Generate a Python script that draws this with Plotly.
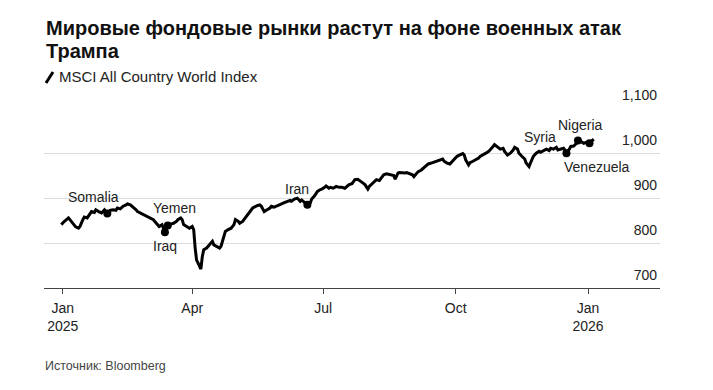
import plotly.graph_objects as go

# ---- data ----
dates = [
    "2024-12-31", "2025-01-02", "2025-01-05", "2025-01-06", "2025-01-08", "2025-01-10", "2025-01-12",
    "2025-01-13", "2025-01-15", "2025-01-16", "2025-01-18", "2025-01-19", "2025-01-21", "2025-01-23",
    "2025-01-24", "2025-01-26", "2025-01-28", "2025-01-30", "2025-01-31", "2025-02-01", "2025-02-02",
    "2025-02-03", "2025-02-05", "2025-02-07", "2025-02-08", "2025-02-10", "2025-02-12", "2025-02-14",
    "2025-02-15", "2025-02-17", "2025-02-19", "2025-02-21", "2025-02-22", "2025-02-25", "2025-02-27",
    "2025-03-01", "2025-03-03", "2025-03-05", "2025-03-06", "2025-03-08", "2025-03-09", "2025-03-11",
    "2025-03-12", "2025-03-13", "2025-03-14", "2025-03-15", "2025-03-18", "2025-03-19", "2025-03-21",
    "2025-03-22", "2025-03-24", "2025-03-25", "2025-03-26", "2025-03-28", "2025-03-30", "2025-04-01",
    "2025-04-02", "2025-04-03", "2025-04-04", "2025-04-05", "2025-04-06", "2025-04-07", "2025-04-08",
    "2025-04-09", "2025-04-11", "2025-04-13", "2025-04-15", "2025-04-16", "2025-04-18", "2025-04-20",
    "2025-04-21", "2025-04-23", "2025-04-24", "2025-04-26", "2025-04-28", "2025-04-30", "2025-05-01",
    "2025-05-03", "2025-05-04", "2025-05-06", "2025-05-08", "2025-05-09", "2025-05-11", "2025-05-13",
    "2025-05-16", "2025-05-18", "2025-05-19", "2025-05-21", "2025-05-23", "2025-05-25", "2025-05-26",
    "2025-05-28", "2025-05-30", "2025-06-01", "2025-06-02", "2025-06-04", "2025-06-06", "2025-06-08",
    "2025-06-09", "2025-06-11", "2025-06-13", "2025-06-15", "2025-06-16", "2025-06-18", "2025-06-20",
    "2025-06-22", "2025-06-23", "2025-06-25", "2025-06-27", "2025-06-29", "2025-06-30", "2025-07-02",
    "2025-07-03", "2025-07-05", "2025-07-06", "2025-07-08", "2025-07-10", "2025-07-12", "2025-07-14",
    "2025-07-16", "2025-07-18", "2025-07-19", "2025-07-21", "2025-07-23", "2025-07-25", "2025-07-26",
    "2025-07-28", "2025-07-30", "2025-08-01", "2025-08-02", "2025-08-04", "2025-08-05", "2025-08-07",
    "2025-08-09", "2025-08-10", "2025-08-12", "2025-08-14", "2025-08-16", "2025-08-17", "2025-08-19",
    "2025-08-20", "2025-08-22", "2025-08-23", "2025-08-25", "2025-08-27", "2025-08-28", "2025-08-30",
    "2025-09-01", "2025-09-02", "2025-09-04", "2025-09-05", "2025-09-07", "2025-09-09", "2025-09-11",
    "2025-09-12", "2025-09-15", "2025-09-17", "2025-09-18", "2025-09-20", "2025-09-22", "2025-09-23",
    "2025-09-25", "2025-09-27", "2025-09-29", "2025-09-30", "2025-10-02", "2025-10-04", "2025-10-06",
    "2025-10-07", "2025-10-08", "2025-10-10", "2025-10-11", "2025-10-13", "2025-10-15", "2025-10-17",
    "2025-10-18", "2025-10-20", "2025-10-22", "2025-10-24", "2025-10-25", "2025-10-27", "2025-10-28",
    "2025-10-30", "2025-11-01", "2025-11-03", "2025-11-04", "2025-11-06", "2025-11-08", "2025-11-10",
    "2025-11-11", "2025-11-13", "2025-11-14", "2025-11-16", "2025-11-18", "2025-11-19", "2025-11-21",
    "2025-11-22", "2025-11-24", "2025-11-26", "2025-11-28", "2025-11-29", "2025-12-01", "2025-12-03",
    "2025-12-05", "2025-12-06", "2025-12-08", "2025-12-10", "2025-12-11", "2025-12-13", "2025-12-15",
    "2025-12-16", "2025-12-17", "2025-12-19", "2025-12-20", "2025-12-22", "2025-12-24", "2025-12-25",
    "2025-12-27", "2025-12-29", "2025-12-31", "2026-01-02", "2026-01-03", "2026-01-05",
]

msci_acwi = [
    841, 848, 856, 852, 844, 836, 833,
    837, 852, 858, 856, 861, 870, 868,
    874, 870, 867, 874, 870, 866, 863,
    873, 874, 873, 878, 876, 882, 885,
    887, 885, 880, 874, 870, 865, 861,
    858, 856, 852, 848, 841, 837, 841,
    830, 824, 837, 839, 843, 844, 848,
    852, 856, 852, 841, 836, 833, 837,
    830, 790, 762, 756, 748, 742, 770,
    785, 789, 796, 804, 796, 793, 789,
    793, 818, 826, 830, 833, 841, 852,
    848, 844, 848, 857, 859, 870, 878,
    883, 885, 882, 870, 874, 878, 882,
    880, 883, 885, 887, 890, 893, 895,
    893, 898, 900, 893, 896, 890, 885,
    889, 898, 905, 915, 919, 920, 924,
    927, 922, 924, 922, 926, 924, 924,
    922, 927, 930, 932, 941, 942, 939,
    935, 930, 920, 926, 932, 937, 941,
    939, 944, 952, 954, 952, 952, 950,
    942, 956, 957, 956, 956, 957, 954,
    952, 948, 956, 959, 962, 967, 972,
    976, 979, 981, 982, 984, 987, 982,
    978, 976, 982, 987, 993, 996, 999,
    996, 985, 974, 979, 982, 985, 989,
    993, 996, 1000, 1004, 1007, 1015, 1019,
    1013, 1009, 1011, 1004, 996, 1000, 1007,
    1013, 1009, 1000, 993, 987, 978, 970,
    978, 993, 1000, 1004, 1002, 1006, 1009,
    1006, 1011, 1009, 1013, 1007, 1009, 1011,
    1007, 1000, 1009, 1015, 1016, 1022, 1028,
    1026, 1022, 1024, 1022, 1026, 1031,
]

event_names = ["Somalia", "Iraq", "Yemen", "Iran", "Syria", "Nigeria", "Venezuela"]
event_dates = ["2025-02-01", "2025-03-13", "2025-03-15", "2025-06-20",
               "2025-12-17", "2025-12-25", "2026-01-02"]
event_values = [msci_acwi[dates.index(d)] for d in event_dates]
# label offsets (pixels) relative to each event dot
event_shift = {
    "Somalia": (-14, 16), "Iraq": (0, -14), "Yemen": (7, 18), "Iran": (-10, 16),
    "Syria": (-26, 16), "Nigeria": (3, 16), "Venezuela": (8, -24),
}

x_tickvals = ["2025-01-01", "2025-04-01", "2025-07-01", "2025-10-01", "2026-01-01"]
x_ticktext = ["Jan<br>2025", "Apr", "Jul", "Oct", "Jan<br>2026"]
y_tickvals = [700, 800, 900, 1000, 1100]

title_lines = ["Мировые фондовые рынки растут на фоне военных атак", "Трампа"]
legend_text = "MSCI All Country World Index"
source_text = "Источник: Bloomberg"

# ---- layout geometry (page has an 8px body margin) ----
OFF = 8
W, H = 713 - OFF, 390 - OFF
L, R, T, B = 44 - OFF, 53, 108 - OFF, 102
PW, PH = W - L - R, H - T - B
FONT = "Liberation Sans, Arial, Helvetica, sans-serif"


def px(p):
    return (p - OFF - L) / PW


def py(p):
    return (H - B - (p - OFF)) / PH


fig = go.Figure()
fig.add_trace(go.Scatter(
    x=dates, y=msci_acwi, mode="lines",
    line=dict(color="#000000", width=3), hoverinfo="skip",
))
fig.add_trace(go.Scatter(
    x=event_dates, y=event_values, mode="markers",
    marker=dict(color="#000000", size=8), hoverinfo="skip",
))

annotations = []
for name, d, v in zip(event_names, event_dates, event_values):
    dx, dy = event_shift[name]
    annotations.append(dict(
        x=d, y=v, xref="x", yref="y", text=name, showarrow=False,
        xshift=dx, yshift=dy, font=dict(family=FONT, size=14, color="#222222"),
    ))

annotations += [
    dict(x=px(44), y=py(27.5), xref="paper", yref="paper", text="<b>" + title_lines[0] + "</b>",
         showarrow=False, xanchor="left", yanchor="middle",
         font=dict(family=FONT, size=20, color="#111111")),
    dict(x=px(44), y=py(50.5), xref="paper", yref="paper", text="<b>" + title_lines[1] + "</b>",
         showarrow=False, xanchor="left", yanchor="middle",
         font=dict(family=FONT, size=20, color="#111111")),
    dict(x=px(57), y=py(77), xref="paper", yref="paper", text=legend_text,
         showarrow=False, xanchor="left", yanchor="middle",
         font=dict(family=FONT, size=15, color="#222222")),
    dict(x=px(43), y=py(366), xref="paper", yref="paper", text=source_text,
         showarrow=False, xanchor="left", yanchor="middle",
         font=dict(family=FONT, size=12.5, color="#444444")),
]

fig.update_layout(
    width=W, height=H,
    margin=dict(l=L, r=R, t=T, b=B),
    paper_bgcolor="white", plot_bgcolor="white",
    showlegend=False,
    font=dict(family=FONT, size=14, color="#222222"),
    annotations=annotations,
    shapes=[dict(type="line", xref="paper", yref="paper",
                 x0=px(46), y0=py(83), x1=px(53), y1=py(72),
                 line=dict(color="#000000", width=3))],
    xaxis=dict(
        type="date", range=["2024-12-19", "2026-02-20"],
        tickvals=x_tickvals, ticktext=x_ticktext,
        showgrid=False, zeroline=False,
        showline=True, linecolor="#444444", linewidth=1,
        ticks="outside", ticklen=5, tickcolor="#444444", tickwidth=1,
        ticklabelstandoff=2,
        tickfont=dict(family=FONT, size=14, color="#222222"),
    ),
    yaxis=dict(
        side="right", range=[700, 1100.5],
        tickvals=y_tickvals, tickformat=",",
        showgrid=True, gridcolor="#dddddd", gridwidth=1,
        zeroline=False, showline=False, ticks="",
        ticklabelposition="inside top", ticklabeloverflow="allow",
        ticklabelshift=-3,
        tickfont=dict(family=FONT, size=14, color="#222222"),
    ),
)

fig.write_html("out.html")
